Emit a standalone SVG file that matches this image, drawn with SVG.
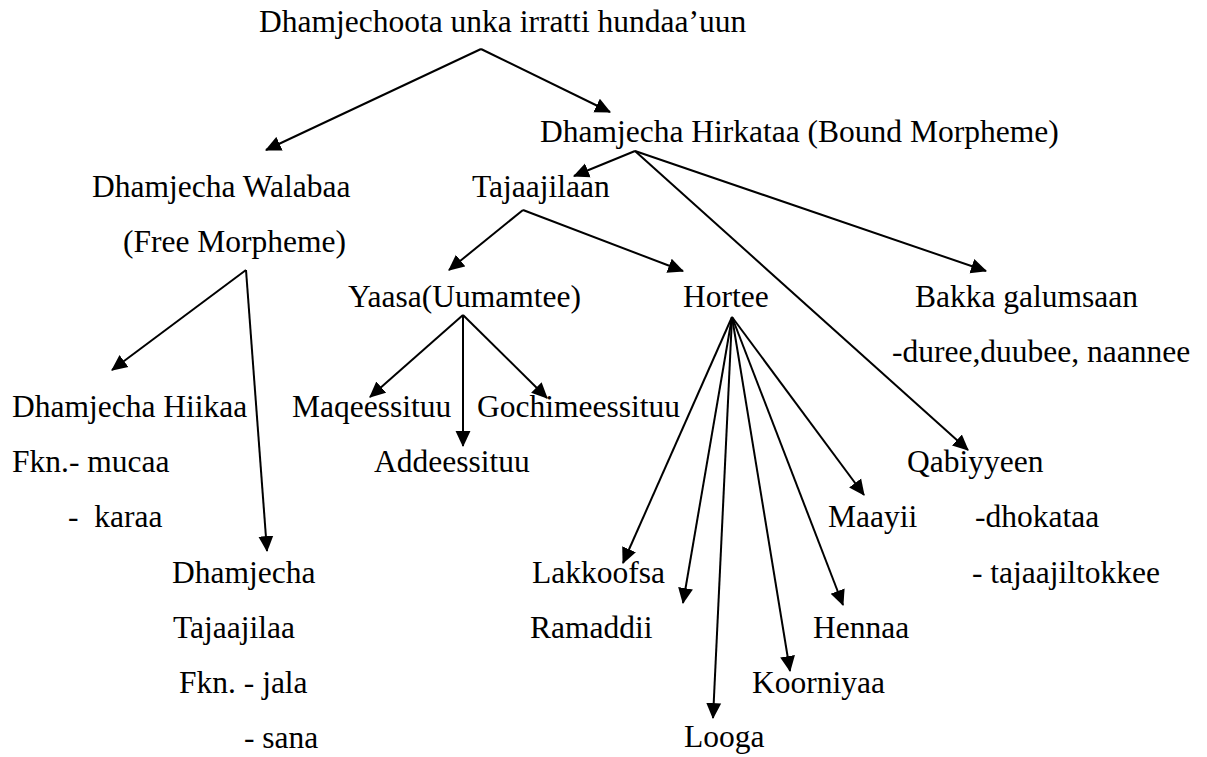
<svg xmlns="http://www.w3.org/2000/svg" width="1207" height="757" viewBox="0 0 1207 757">
<style>
.t text{font-size:31.5px;fill:#000}
.c line{stroke:#000;stroke-width:2;marker-end:url(#ah)}
</style>
<defs>
<marker id="ah" markerUnits="userSpaceOnUse" markerWidth="16" markerHeight="16" viewBox="0 0 15 15" refX="14" refY="7.5" orient="auto">
<path d="M0,0.5 L15,7.5 L0,14.5 z" fill="#000"/>
</marker>
</defs>
<rect width="1207" height="757" fill="#fff"/>
<g id="connectors" class="c">
<line x1="481" y1="49" x2="266" y2="150"/>
<line x1="481" y1="49" x2="610" y2="112"/>
<line x1="635" y1="151" x2="574" y2="176"/>
<line x1="635" y1="151" x2="986" y2="271"/>
<line x1="635" y1="151" x2="968" y2="450"/>
<line x1="523" y1="210" x2="449" y2="270"/>
<line x1="523" y1="210" x2="683" y2="271"/>
<line x1="246" y1="270" x2="112" y2="370"/>
<line x1="246" y1="270" x2="267" y2="551"/>
<line x1="463" y1="315" x2="370" y2="397"/>
<line x1="463" y1="315" x2="547" y2="398"/>
<line x1="463" y1="315" x2="463" y2="446"/>
<line x1="732" y1="317" x2="623" y2="563"/>
<line x1="732" y1="317" x2="683" y2="603"/>
<line x1="732" y1="317" x2="713" y2="718"/>
<line x1="732" y1="317" x2="790" y2="671"/>
<line x1="732" y1="317" x2="843" y2="605"/>
<line x1="732" y1="317" x2="864" y2="495"/>
</g>
<g class="t" font-family="'Liberation Serif', Tinos, 'Times New Roman', 'DejaVu Serif', serif">
<g id="root"><text x="259" y="32">Dhamjechoota unka irratti hundaa’uun</text></g>
<g id="hirkataa"><text x="540" y="142">Dhamjecha Hirkataa (Bound Morpheme)</text></g>
<g id="walabaa"><text x="92" y="197">Dhamjecha Walabaa</text><text x="123" y="252">(Free Morpheme)</text></g>
<g id="tajaajilaan"><text x="472" y="197">Tajaajilaan</text></g>
<g id="yaasa"><text x="348" y="307">Yaasa(Uumamtee)</text></g>
<g id="hortee"><text x="683" y="307">Hortee</text></g>
<g id="bakka"><text x="915" y="307">Bakka galumsaan</text><text x="892" y="362">-duree,duubee, naannee</text></g>
<g id="hiikaa"><text x="12" y="417">Dhamjecha Hiikaa</text><text x="12" y="472">Fkn.- mucaa</text><text x="68" y="527" xml:space="preserve">-  karaa</text></g>
<g id="maqeessituu"><text x="292" y="417">Maqeessituu</text></g>
<g id="gochimeessituu"><text x="477" y="417">Gochimeessituu</text></g>
<g id="addeessituu"><text x="374" y="472">Addeessituu</text></g>
<g id="qabiyyeen"><text x="907" y="472">Qabiyyeen</text><text x="975" y="527">-dhokataa</text><text x="972" y="583">- tajaajiltokkee</text></g>
<g id="maayii"><text x="828" y="527">Maayii</text></g>
<g id="tajaajilaa"><text x="172" y="583">Dhamjecha</text><text x="173" y="638">Tajaajilaa</text><text x="179" y="693">Fkn. - jala</text><text x="244" y="748">- sana</text></g>
<g id="lakkoofsa"><text x="532" y="583">Lakkoofsa</text></g>
<g id="ramaddii"><text x="530" y="638">Ramaddii</text></g>
<g id="hennaa"><text x="813" y="638">Hennaa</text></g>
<g id="koorniyaa"><text x="752" y="693">Koorniyaa</text></g>
<g id="looga"><text x="684" y="747">Looga</text></g>
</g>
</svg>
